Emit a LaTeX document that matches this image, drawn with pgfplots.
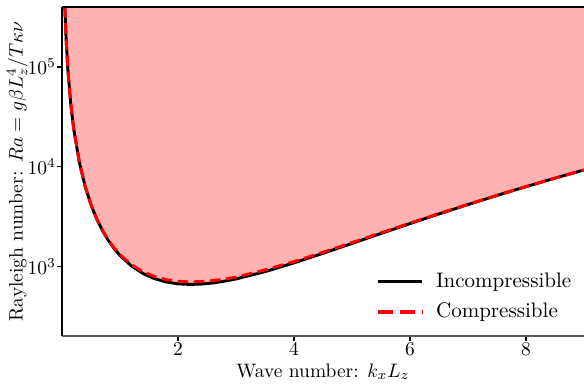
\documentclass[border=0pt]{standalone}
\usepackage{pgfplots}
\pgfplotsset{compat=1.18}
\pgfplotstableread{
k Rainc Racomp
0.049 400000 400000
0.05 384850 384850
0.07 196494 196494
0.1 96431 96431
0.15 43021 43021
0.2 24328 24328
0.3 10977 10977
0.4 6305.7 6305.7
0.5 4145.2 4145.2
0.6 2973.5 2973.5
0.7 2269.0 2280
0.8 1813.8 1832
0.9 1503.8 1526
1.0 1284.2 1310
1.2 1004.6 1035
1.4 844.6 878
1.6 750.1 788
1.8 695.4 734
2.0 667.0 707
2.2 657.6 697
2.4 662.9 703
2.6 680.3 718
2.8 708.5 744
3.0 746.5 780
3.5 883.5 919
4.0 1082.1 1115
4.5 1349.3 1383
5.0 1695.9 1730
5.5 2134.7 2167
6.0 2680.9 2708
6.5 3351.0 3378
7.0 4163.7 4185
7.5 5138.9 5154
8.0 6298.2 6298.2
8.5 7664.8 7664.8
9.0 9263.4 9263.4
}\critdata
\begin{document}
\begin{tikzpicture}
\begin{axis}[
  scale only axis,
  width=268.2pt, height=169pt,
  ymode=log,
  xmin=0, xmax=9,
  ymin=200, ymax=400000,
  xtick={2,4,6,8},
  ytick={1000,10000,100000},
  yminorticks=false,
  axis x line*=bottom,
  axis y line*=left,
  x axis line style={draw=black!65, line width=0.8pt},
  y axis line style={draw=black, line width=0.8pt},
  tick align=outside,
  major tick length=2.5pt,
  tick style={black, line width=0.6pt},
  yticklabel style={inner xsep=0.5pt},
  xticklabel style={inner ysep=1pt},
  xlabel={Wave number: $k_xL_z$},
  ylabel={Rayleigh number: $Ra = g\beta L_z^4/T\kappa\nu$},
  xlabel style={yshift=0.5pt},
  ylabel style={yshift=-4pt},
  legend style={draw=none, fill=none, at={(rel axis cs:0.995,0.022)}, anchor=south east, row sep=2.5pt, font=\fontsize{10.8pt}{13pt}\selectfont},
  legend cell align=left,
  legend image code/.code={\draw[#1] (0pt,0pt) -- (23pt,0pt); \path (27pt,0pt);},
]
\addplot[fill=red!30, draw=none, forget plot] table[x=k, y=Rainc] {\critdata} -- (axis cs:9,400000) -- (axis cs:0.049,400000) -- cycle;
\addplot[black, line width=1.5pt] table[x=k, y=Rainc] {\critdata};
\addlegendentry{Incompressible}
\addplot[red, line width=1.5pt, dash pattern=on 5.5pt off 2.8pt, forget plot] table[x=k, y=Racomp] {\critdata};
\addlegendimage{red, line width=2pt, dash pattern=on 7.7pt off 3.6pt}
\addlegendentry{Compressible}
\draw[black, line width=0.8pt] (rel axis cs:0,1) -- (rel axis cs:1,1);
\end{axis}
\pgfresetboundingbox
\path[use as bounding box] ([xshift=-31.85pt,yshift=-24.66pt]current axis.south west) rectangle ([yshift=3.6pt]current axis.north east);
\end{tikzpicture}
\end{document}
